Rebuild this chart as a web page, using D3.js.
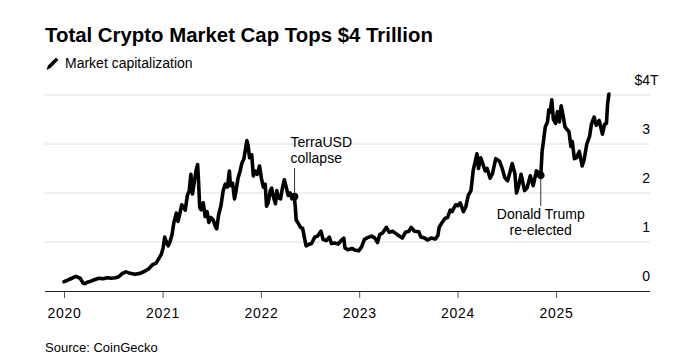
<!DOCTYPE html>
<html>
<head>
<meta charset="utf-8">
<script src="https://cdn.jsdelivr.net/npm/d3@7"></script>
<style>
  body { margin: 0; background: #fff; }
  svg { display: block; font-family: "Liberation Sans", Arial, Helvetica, sans-serif; }
</style>
</head>
<body>
<svg id="chart" width="690" height="361"></svg>
<script>
// market cap, trillions of USD
const dates = [
  "2020-01-01","2020-01-14","2020-01-26","2020-02-14","2020-02-22","2020-03-01","2020-03-12","2020-03-18","2020-03-28","2020-04-10",
  "2020-04-28","2020-05-10","2020-05-25","2020-06-10","2020-06-25","2020-07-10","2020-07-22","2020-08-05","2020-08-18","2020-09-03",
  "2020-09-20","2020-10-10","2020-10-25","2020-11-10","2020-11-25","2020-12-08","2020-12-20","2020-12-28","2021-01-03","2021-01-09",
  "2021-01-14","2021-01-22","2021-01-28","2021-02-05","2021-02-12","2021-02-21","2021-02-27","2021-03-05","2021-03-13","2021-03-20",
  "2021-03-26","2021-04-03","2021-04-10","2021-04-16","2021-04-22","2021-04-28","2021-05-05","2021-05-11","2021-05-14","2021-05-19",
  "2021-05-24","2021-06-01","2021-06-08","2021-06-15","2021-06-22","2021-06-29","2021-07-08","2021-07-15","2021-07-21","2021-07-28",
  "2021-08-06","2021-08-14","2021-08-22","2021-08-30","2021-09-06","2021-09-10","2021-09-18","2021-09-25","2021-10-01","2021-10-08",
  "2021-10-16","2021-10-22","2021-10-30","2021-11-05","2021-11-10","2021-11-15","2021-11-20","2021-11-28","2021-12-04","2021-12-10",
  "2021-12-18","2021-12-27","2022-01-03","2022-01-10","2022-01-17","2022-01-22","2022-01-28","2022-02-05","2022-02-10","2022-02-15",
  "2022-02-24","2022-03-01","2022-03-07","2022-03-15","2022-03-22","2022-03-29","2022-04-06","2022-04-12","2022-04-20","2022-04-26",
  "2022-05-05","2022-05-09","2022-05-12","2022-05-20","2022-05-28","2022-06-05","2022-06-13","2022-06-18","2022-06-28","2022-07-08",
  "2022-07-20","2022-07-30","2022-08-12","2022-08-20","2022-09-01","2022-09-12","2022-09-20","2022-10-01","2022-10-15","2022-10-29",
  "2022-11-05","2022-11-09","2022-11-20","2022-12-05","2022-12-18","2022-12-30","2023-01-10","2023-01-20","2023-02-01","2023-02-16",
  "2023-02-28","2023-03-10","2023-03-18","2023-03-28","2023-04-12","2023-04-22","2023-05-05","2023-05-20","2023-06-10","2023-06-22",
  "2023-07-05","2023-07-13","2023-07-25","2023-08-10","2023-08-18","2023-09-01","2023-09-11","2023-09-25","2023-10-10","2023-10-20",
  "2023-10-25","2023-11-05","2023-11-15","2023-11-25","2023-12-05","2023-12-12","2023-12-25","2024-01-02","2024-01-11","2024-01-23",
  "2024-02-01","2024-02-10","2024-02-20","2024-02-28","2024-03-05","2024-03-13","2024-03-19","2024-03-27","2024-04-05","2024-04-13",
  "2024-04-20","2024-05-01","2024-05-10","2024-05-22","2024-06-05","2024-06-15","2024-06-24","2024-07-05","2024-07-15","2024-07-22",
  "2024-08-01","2024-08-07","2024-08-15","2024-08-24","2024-09-06","2024-09-15","2024-09-27","2024-10-08","2024-10-20","2024-10-30",
  "2024-11-05","2024-11-10","2024-11-15","2024-11-22","2024-11-30","2024-12-05","2024-12-10","2024-12-16","2024-12-22","2024-12-30",
  "2025-01-06","2025-01-13","2025-01-20","2025-01-27","2025-02-03","2025-02-10","2025-02-18","2025-02-25","2025-03-02","2025-03-10",
  "2025-03-18","2025-03-28","2025-04-08","2025-04-15","2025-04-25","2025-05-05","2025-05-12","2025-05-22","2025-05-30","2025-06-10",
  "2025-06-22","2025-06-30","2025-07-07","2025-07-11","2025-07-16"
]
const marketCap = [
  0.19,0.22,0.25,0.30,0.28,0.26,0.16,0.15,0.18,0.20,
  0.24,0.26,0.25,0.27,0.26,0.27,0.29,0.36,0.39,0.36,
  0.34,0.36,0.40,0.45,0.54,0.57,0.68,0.76,0.88,1.10,
  1.02,0.92,1.00,1.15,1.40,1.59,1.42,1.55,1.76,1.72,
  1.65,1.95,2.05,2.38,1.98,2.20,2.45,2.58,2.30,1.70,
  1.66,1.80,1.52,1.62,1.40,1.50,1.45,1.33,1.27,1.55,
  1.75,2.05,2.18,2.12,2.45,2.15,2.20,1.88,2.05,2.30,
  2.45,2.60,2.70,2.90,3.07,2.95,2.72,2.78,2.35,2.45,
  2.38,2.55,2.30,2.12,2.18,1.73,1.80,2.05,2.10,1.95,
  1.78,2.05,1.90,1.88,2.10,2.27,2.10,1.95,2.00,1.88,
  1.93,1.70,1.45,1.38,1.30,1.28,1.05,0.92,0.95,0.97,
  1.10,1.12,1.22,1.05,1.03,1.10,0.97,0.98,0.96,1.05,
  1.08,0.88,0.84,0.87,0.83,0.82,0.90,1.05,1.09,1.12,
  1.08,0.99,1.15,1.18,1.30,1.20,1.22,1.16,1.08,1.20,
  1.22,1.30,1.22,1.21,1.10,1.08,1.04,1.08,1.06,1.13,
  1.30,1.40,1.48,1.50,1.65,1.62,1.76,1.74,1.80,1.62,
  1.72,1.95,2.05,2.45,2.60,2.80,2.50,2.72,2.58,2.45,
  2.50,2.30,2.40,2.70,2.65,2.50,2.32,2.25,2.45,2.60,
  2.40,2.00,2.15,2.38,2.05,2.10,2.35,2.15,2.45,2.40,
  2.33,2.85,3.05,3.35,3.45,3.70,3.65,3.90,3.50,3.42,
  3.66,3.45,3.78,3.58,3.35,3.30,3.25,2.95,3.05,2.70,
  2.72,2.85,2.55,2.68,3.00,3.15,3.40,3.55,3.38,3.48,
  3.20,3.40,3.42,3.80,4.02
]

const yTicks = [0, 1, 2, 3, 4]
const yearTicks = ["2020", "2021", "2022", "2023", "2024", "2025"]

// annotations
const noteDates = ["2022-05-06", "2024-11-05"]
const noteValues = [1.93, 2.36]
const noteLabels = [["TerraUSD", "collapse"], ["Donald Trump", "re-elected"]]

const title = "Total Crypto Market Cap Tops $4 Trillion"
const legendLabel = "Market capitalization"
const source = "Source: CoinGecko"

const parse = d3.timeParse("%Y-%m-%d")
const data = dates.map((d, i) => ({ date: parse(d), value: marketCap[i] }))
const notes = noteDates.map((d, i) => ({ date: parse(d), value: noteValues[i], lines: noteLabels[i] }))

const svg = d3.select("#chart")

const plot = { left: 45, right: 650, top: 95, bottom: 291 }

const x = d3.scaleTime()
  .domain([parse("2020-01-01"), parse("2026-01-01")])
  .range([64, 654.4])

const y = d3.scaleLinear()
  .domain([0, 4])
  .range([plot.bottom, plot.top])

// title + legend
svg.append("text")
  .attr("x", 45).attr("y", 42)
  .attr("font-size", 20.4).attr("font-weight", "bold")
  .attr("fill", "#000")
  .text(title)

svg.append("path")
  .attr("d", "M46.5,70 L48,65.5 L56,57.5 L58.5,60 L50.5,68 Z")
  .attr("fill", "#000")

svg.append("text")
  .attr("x", 65).attr("y", 68)
  .attr("font-size", 14)
  .attr("fill", "#000")
  .text(legendLabel)

// gridlines
svg.selectAll(".grid")
  .data(yTicks.filter(d => d > 0))
  .enter()
  .append("line")
  .attr("class", "grid")
  .attr("x1", plot.left).attr("x2", plot.right)
  .attr("y1", d => y(d)).attr("y2", d => y(d))
  .attr("stroke", "#dedede")
  .attr("stroke-width", 1)

// y labels
const yLab = svg.selectAll(".ylab")
  .data(yTicks)
  .enter()
  .append("g")
  .attr("class", "ylab")
  .attr("font-size", 14)
  .attr("fill", "#000")

yLab.append("text")
  .attr("x", plot.right)
  .attr("y", d => y(d) - 10)
  .attr("text-anchor", "end")
  .text(d => d === 4 ? "$4" : d)

yLab.filter(d => d === 4)
  .append("text")
  .attr("x", plot.right)
  .attr("y", d => y(d) - 10)
  .text("T")

// x axis
const xAxis = d3.axisBottom(x)
  .tickValues(yearTicks.map(d => parse(d + "-01-01")))
  .tickSize(7)
  .tickFormat(d3.timeFormat("%Y"))

const gx = svg.append("g")
  .attr("transform", `translate(0,${plot.bottom})`)
  .call(xAxis)

gx.select(".domain").remove()
gx.selectAll(".tick line").attr("stroke", "#555")
gx.selectAll(".tick text")
  .attr("y", 17)
  .attr("dy", "0.71em")
  .attr("font-size", 14)
  .attr("letter-spacing", 0.7)
  .attr("font-family", "Liberation Sans, Arial, sans-serif")
  .attr("fill", "#000")

svg.append("line")
  .attr("x1", plot.left).attr("x2", plot.right)
  .attr("y1", plot.bottom + 0.5).attr("y2", plot.bottom + 0.5)
  .attr("stroke", "#222")
  .attr("stroke-width", 1.2)

// the line
const line = d3.line()
  .x(d => x(d.date))
  .y(d => y(d.value))

svg.append("path")
  .datum(data)
  .attr("d", line)
  .attr("fill", "none")
  .attr("stroke", "#000")
  .attr("stroke-width", 3.6)
  .attr("stroke-linejoin", "round")
  .attr("stroke-linecap", "round")

// annotations
const terra = notes[0]
svg.append("line")
  .attr("x1", x(terra.date)).attr("x2", x(terra.date))
  .attr("y1", 168).attr("y2", y(terra.value))
  .attr("stroke", "#333").attr("stroke-width", 1)

svg.append("text")
  .attr("x", x(terra.date) - 4)
  .attr("font-size", 14)
  .attr("fill", "#000")
  .selectAll("tspan")
  .data(terra.lines)
  .enter()
  .append("tspan")
  .attr("x", x(terra.date) - 4)
  .attr("y", (d, i) => 147 + i * 16)
  .text(d => d)

const trump = notes[1]
svg.append("line")
  .attr("x1", x(trump.date)).attr("x2", x(trump.date))
  .attr("y1", y(trump.value)).attr("y2", 206)
  .attr("stroke", "#333").attr("stroke-width", 1)

svg.append("text")
  .attr("font-size", 14)
  .attr("text-anchor", "middle")
  .attr("fill", "#000")
  .selectAll("tspan")
  .data(trump.lines)
  .enter()
  .append("tspan")
  .attr("x", x(trump.date))
  .attr("y", (d, i) => 219 + i * 16)
  .text(d => d)

svg.selectAll(".dot")
  .data(notes)
  .enter()
  .append("circle")
  .attr("class", "dot")
  .attr("cx", d => x(d.date))
  .attr("cy", d => y(d.value))
  .attr("r", 3.8)
  .attr("fill", "#000")

// source
svg.append("text")
  .attr("x", 45).attr("y", 352)
  .attr("font-size", 13)
  .attr("fill", "#000")
  .text(source)
</script>
</body>
</html>
